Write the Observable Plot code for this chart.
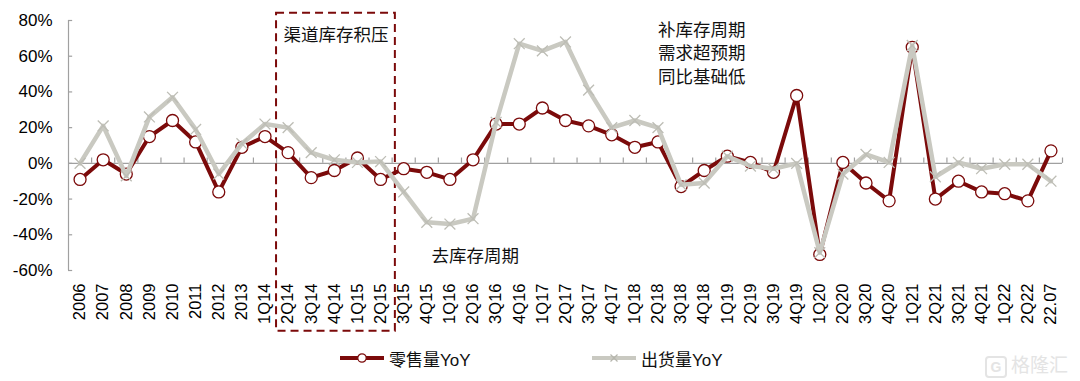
<!DOCTYPE html>
<html><head><meta charset="utf-8">
<script src="https://cdn.jsdelivr.net/npm/d3@7"></script>
<script src="https://cdn.jsdelivr.net/npm/@observablehq/plot@0.6"></script>
<style>
body{margin:0;background:#fff;font-family:"Liberation Sans","Noto Sans CJK SC",Arial,sans-serif;}
#wrap{position:relative;width:1080px;height:381px;overflow:hidden;}
.lg{position:absolute;top:346px;height:24px;display:flex;align-items:center;font-size:17px;color:#111;}
.wm{position:absolute;right:12px;top:350px;font-size:19px;color:#e4e4e4;font-family:"Noto Sans CJK SC",sans-serif;}
.wm span{display:inline-block;border:2px solid #e4e4e4;border-radius:4px;width:18px;height:18px;line-height:18px;text-align:center;font-size:14px;margin-right:4px;font-family:"Liberation Sans";font-weight:bold;}
</style></head><body>
<div id="wrap"></div>
<script>
const categories = ["2006","2007","2008","2009","2010","2011","2012","2013",
  "1Q14","2Q14","3Q14","4Q14","1Q15","2Q15","3Q15","4Q15",
  "1Q16","2Q16","3Q16","4Q16","1Q17","2Q17","3Q17","4Q17",
  "1Q18","2Q18","3Q18","4Q18","1Q19","2Q19","3Q19","4Q19",
  "1Q20","2Q20","3Q20","4Q20","1Q21","2Q21","3Q21","4Q21",
  "1Q22","2Q22","22.07"];
const retailYoY = [-9, 2, -6, 15, 24, 12, -16, 9,
  15, 6, -8, -4, 3, -9, -3, -5,
  -9, 2, 22, 22, 31, 24, 21, 16,
  9, 12, -13, -4, 4, 0.5, -5, 38,
  -51, 0.5, -11, -21, 65, -20, -10, -16,
  -17, -21, 7];
const shipmentYoY = [0, 21, -7, 26, 37, 19, -6, 11,
  22, 20, 6, 2, 0.5, 1, -16, -33,
  -34, -31, 23, 67, 63, 68, 41, 20,
  24, 20, -12, -11, 4, -1.5, -3, 0,
  -50, -6, 5, 0.5, 66, -7.5, 0.5, -3,
  -0.5, -0.5, -10];
const yTicks = [-60, -40, -20, 0, 20, 40, 60, 80];
const seriesNames = ["零售量YoY", "出货量YoY"];
const annotations = [
  {label: "渠道库存积压", i: 8.8, v: 73},
  {label: "去库存周期", i: 15.2, v: -51},
  {label: "补库存周期\n需求超预期\n同比基础低", i: 25.0, v: 62.6}
];
const boxSpan = {i1: 8.5, i2: 13.64, v1: -94, v2: 84};

const RED = "#7b0a0a", GRAY = "#c9c9c1", AX = "#a0a0a0";
const retail = categories.map((c, i) => ({i, v: retailYoY[i]}));
const ship = categories.map((c, i) => ({i, v: shipmentYoY[i]}));
const idx = d3.range(categories.length);

const chart = Plot.plot({
  width: 1080, height: 340,
  marginLeft: 68, marginRight: 18, marginTop: 20, marginBottom: 70,
  style: {fontFamily: '"Liberation Sans","Noto Sans CJK SC",Arial,sans-serif', color: "#000", background: "#fff"},
  x: {type: "linear", domain: [-0.5, categories.length - 0.5]},
  y: {domain: [-60, 80]},
  marks: [
    Plot.ruleX([-0.5], {y1: -60, y2: 80, stroke: AX, strokeWidth: 1.2}),
    Plot.ruleY(yTicks, {x1: -0.5, x2: -0.32, stroke: AX, strokeWidth: 1.2}),
    Plot.ruleY([0], {x1: -0.5, x2: categories.length - 0.5, stroke: AX, strokeWidth: 1.2}),
    Plot.ruleX(idx.map(i => i + 0.5), {y1: 0, y2: 3, stroke: AX, strokeWidth: 1.2}),
    Plot.axisY({ticks: yTicks, tickFormat: d => d + "%", tickSize: 0, tickPadding: 16, fontSize: 17, label: null}),
    Plot.axisX({ticks: idx, tickFormat: i => categories[i], tickSize: 0, tickPadding: 13, tickRotate: -90, fontSize: 16.5, label: null}),
    Plot.rect([boxSpan], {x1: "i1", x2: "i2", y1: "v1", y2: "v2", fill: "none", stroke: RED, strokeWidth: 2, strokeDasharray: "8,5", clip: false}),
    Plot.line(retail, {x: "i", y: "v", stroke: RED, strokeWidth: 4, strokeLinejoin: "round"}),
    Plot.dot(retail, {x: "i", y: "v", r: 6, fill: "#fff", stroke: RED, strokeWidth: 1.3}),
    Plot.line(ship, {x: "i", y: "v", stroke: GRAY, strokeWidth: 4.5, strokeLinejoin: "round"}),
    Plot.dot(ship, {x: "i", y: "v", r: 5, symbol: "times", stroke: "#bdbdb5", strokeWidth: 1.3}),
    Plot.text(annotations, {x: "i", y: "v", text: "label", textAnchor: "start", lineAnchor: "middle", fontSize: 17.5, lineHeight: 1.34, fill: "#111", fontFamily: '"Noto Sans CJK SC",sans-serif'})
  ]
});
const wrap = document.getElementById("wrap");
wrap.appendChild(chart);

function legendItem(left, name, color, marker) {
  const d = document.createElement("div");
  d.className = "lg";
  d.style.left = left + "px";
  const sw = marker === "circle"
    ? `<svg width="46" height="14"><line x1="0" y1="7" x2="44" y2="7" stroke="${color}" stroke-width="4"/><circle cx="22" cy="7" r="4.2" fill="#fff" stroke="${color}" stroke-width="1.2"/></svg>`
    : `<svg width="46" height="14"><line x1="0" y1="7" x2="44" y2="7" stroke="${color}" stroke-width="4"/><path d="M18.5,3.5L25.5,10.5M25.5,3.5L18.5,10.5" stroke="#b5b5ad" stroke-width="1.2"/></svg>`;
  d.innerHTML = sw + `<span style="margin-left:3px">${name}</span>`;
  wrap.appendChild(d);
}
legendItem(340, seriesNames[0], RED, "circle");
legendItem(592, seriesNames[1], GRAY, "times");
const wm = document.createElement("div");
wm.className = "wm";
wm.innerHTML = "<span>G</span>格隆汇";
wrap.appendChild(wm);
</script>
</body></html>
